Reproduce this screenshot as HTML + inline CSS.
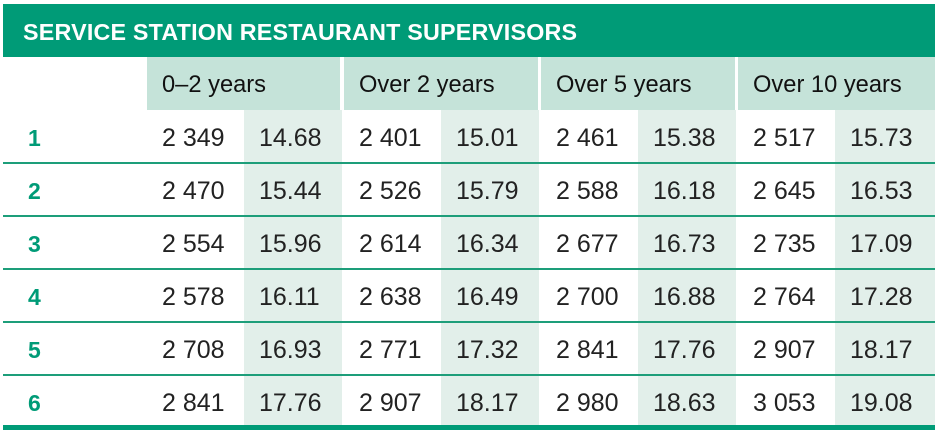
<!DOCTYPE html>
<html><head><style>
body{margin:0;width:938px;height:433px;background:#fff;position:relative;overflow:hidden;font-family:"Liberation Sans",sans-serif;}
div{position:absolute;}
.t{left:3px;top:4px;width:932px;height:53px;background:#009b77;color:#fff;font-weight:bold;font-size:23.3px;line-height:56px;padding-left:20px;box-sizing:border-box;letter-spacing:0.2px;white-space:nowrap}
.h{top:57px;height:53px;background:#c5e3d9;font-size:23.7px;line-height:56px;padding-left:15px;box-sizing:border-box;color:#111;white-space:nowrap}
.s{top:110px;height:315px;background:#e2efea}
.l{left:3px;width:932px;height:2px;background:#1d9e7a}
.n{font-size:25px;color:#222;line-height:54px;height:53px;white-space:nowrap}
.r{left:28px;font-weight:bold;color:#009b77;font-size:23px;line-height:54px}
</style></head><body>
<div class="t">SERVICE STATION RESTAURANT SUPERVISORS</div>
<div class="h" style="left:147px;width:193px">0–2 years</div>
<div class="h" style="left:344px;width:194px">Over 2 years</div>
<div class="h" style="left:541px;width:194px">Over 5 years</div>
<div class="h" style="left:738px;width:197px">Over 10 years</div>
<div class="s" style="left:244px;width:98px"></div>
<div class="s" style="left:441px;width:98px"></div>
<div class="s" style="left:638px;width:98px"></div>
<div class="s" style="left:835px;width:100px"></div>
<div class="l" style="top:162px"></div>
<div class="l" style="top:215px"></div>
<div class="l" style="top:268px"></div>
<div class="l" style="top:321px"></div>
<div class="l" style="top:374px"></div>
<div style="left:3px;top:425px;width:932px;height:5px;background:#009b77"></div>
<div id="rows"></div>
<script>
var d=[["2 349","14.68","2 401","15.01","2 461","15.38","2 517","15.73"],
["2 470","15.44","2 526","15.79","2 588","16.18","2 645","16.53"],
["2 554","15.96","2 614","16.34","2 677","16.73","2 735","17.09"],
["2 578","16.11","2 638","16.49","2 700","16.88","2 764","17.28"],
["2 708","16.93","2 771","17.32","2 841","17.76","2 907","18.17"],
["2 841","17.76","2 907","18.17","2 980","18.63","3 053","19.08"]];
var xs=[162,259,359,456,556,653,753,850],h="";
for(var i=0;i<6;i++){var y=111+i*53;
h+='<div class="r" style="top:'+y+'px">'+(i+1)+'</div>';
for(var j=0;j<8;j++)h+='<div class="n" style="top:'+y+'px;left:'+xs[j]+'px">'+d[i][j]+'</div>';}
document.getElementById("rows").outerHTML=h;
</script>
</body></html>
